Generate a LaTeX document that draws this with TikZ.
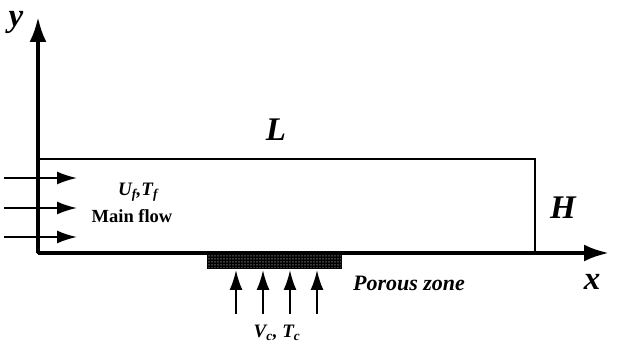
\documentclass[tikz,border=0pt]{standalone}
\usepackage{fontspec}
\setmainfont{Liberation Serif}
\usetikzlibrary{arrows.meta,positioning,patterns}
\pgfdeclarepatternformonly{porousdots}{\pgfqpoint{0pt}{0pt}}{\pgfqpoint{2.6pt}{2.6pt}}{\pgfqpoint{2.6pt}{2.6pt}}{%
	\pgfpathrectangle{\pgfqpoint{0.8pt}{0.8pt}}{\pgfqpoint{0.9pt}{0.9pt}}\pgfusepath{fill}}

\begin{document}
\begin{tikzpicture}[x=1pt, y=-1pt, every node/.style={font=\bfseries\itshape, inner sep=0pt},
	axis/.style={-{Latex[length=25pt,width=17pt]},line width=3.8pt},
	arr/.style={-{Latex[length=20pt,width=13pt]},line width=2pt},
	big/.style={font=\fontsize{33}{33}\selectfont\bfseries\itshape}]
		\useasboundingbox (0,0) rectangle (618,352);
		\coordinate (O) at (38,253); \coordinate (xend) at (609,253); \coordinate (yend) at (38,17);
		\draw[line width=2pt] (O) rectangle (535,159);
		\draw[axis] (O)--(xend); \draw[axis] (O)--(yend);
		% porous zone
		\fill[black] (207,254) rectangle (342,269);
		\fill[pattern=porousdots, pattern color=white] (208,255) rectangle (341,268);
		% inlet and suction arrows
		\foreach \i/\py in {1/178,2/208,3/237} {\coordinate (ia\i) at (4,\py); \coordinate (ib\i) at (77,\py); \draw[arr] (ia\i)--(ib\i);}
		\foreach \i/\px in {1/236,2/263,3/290,4/317} {\coordinate (vb\i) at (\px,314); \coordinate (vt\i) at (\px,270); \draw[arr] (vb\i)--(vt\i);}
		% labels
		\node[big] (ylab) at (16,22) {y};
		\node[big] (xlab) at (592,282) {x};
		\node[big] (Llab) at (276,130) {L};
		\node[big] (Hlab) at (563,208) {H};
		\node[font=\fontsize{19}{19}\selectfont\bfseries\itshape] (uf) at (138,192) {U\textsubscript{f},T\textsubscript{f}};
		\node[font=\fontsize{18.5}{18.5}\selectfont\bfseries] (main) at (132,216) {Main flow};
		\node[font=\fontsize{22}{22}\selectfont\bfseries\itshape] (pz) at (409,283) {Porous zone};
		\node[font=\fontsize{19}{19}\selectfont\bfseries\itshape] (vc) at (277,333) {V\textsubscript{c}, T\textsubscript{c}};
	\end{tikzpicture}
\end{document}
